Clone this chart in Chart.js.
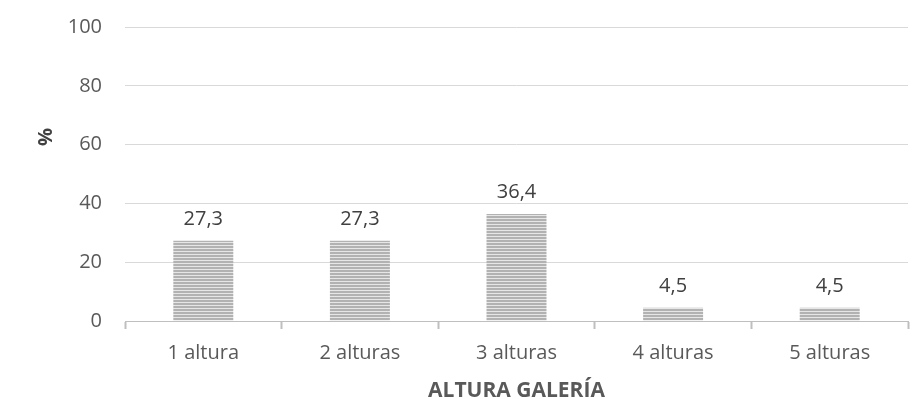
<!DOCTYPE html>
<html>
<head>
<meta charset="utf-8">
<script src="https://cdn.jsdelivr.net/npm/chart.js@4"></script>
<style>
  html, body { margin: 0; padding: 0; background: #fff; }
  #wrap { width: 919px; height: 399px; }
</style>
</head>
<body>
<div id="wrap"><canvas id="myChart"></canvas></div>
<script>
const categories = ['1 altura', '2 alturas', '3 alturas', '4 alturas', '5 alturas'];
const percentages = [27.3, 27.3, 36.4, 4.5, 4.5];
const yTicks = [0, 20, 40, 60, 80, 100];

// horizontal stripe fill, like the original bars
function stripes() {
    const c = document.createElement('canvas');
    c.width = 4;
    c.height = 3;
    const g = c.getContext('2d');
    g.fillStyle = '#b2b2b2';
    g.fillRect(0, 0, 4, 3);
    g.fillStyle = '#e6e6e6';
    g.fillRect(0, 2, 4, 1);
    return g.createPattern(c, 'repeat');
}

const valueLabels = {
    id: 'valueLabels',
    afterDatasetsDraw(chart) {
        const ctx = chart.ctx;
        const meta = chart.getDatasetMeta(0);
        ctx.save();
        ctx.fillStyle = '#404040';
        ctx.font = '20px "Open Sans"';
        ctx.textAlign = 'center';
        ctx.textBaseline = 'alphabetic';
        meta.data.forEach((bar, i) => {
            ctx.fillText(percentages[i].toFixed(1).replace('.', ','), bar.x, bar.y - 16);
        });
        // y axis title, placed like the original (above centre)
        ctx.translate(46, 137);
        ctx.rotate(-Math.PI / 2);
        ctx.fillStyle = '#404040';
        ctx.font = 'bold 20px "Open Sans"';
        ctx.textBaseline = 'middle';
        ctx.fillText('%', 0, 0);
        ctx.restore();
    }
};

const ctx = document.getElementById('myChart').getContext('2d');
const myChart = new Chart(ctx, {
    type: 'bar',
    data: {
        labels: categories,
        datasets: [{
            data: percentages,
            backgroundColor: stripes(),
            borderWidth: 0,
            categoryPercentage: 1,
            barPercentage: 0.383
        }]
    },
    options: {
        responsive: true,
        maintainAspectRatio: false,
        animation: false,
        layout: { padding: { left: 0, right: 11, top: 27, bottom: 0 } },
        plugins: {
            legend: { display: false },
            tooltip: { enabled: false }
        },
        scales: {
            x: {
                offset: true,
                afterFit(axis) { axis.height = 78; },
                grid: {
                    display: true,
                    offset: true,
                    drawOnChartArea: false,
                    drawTicks: true,
                    tickLength: 8,
                    tickWidth: 2,
                    color: '#bfbfbf'
                },
                border: { color: '#bfbfbf', width: 1 },
                ticks: { color: '#595959', font: { family: 'Open Sans', size: 20 }, padding: 12 },
                title: {
                    display: true,
                    text: 'ALTURA GALERÍA',
                    color: '#595959',
                    font: { family: 'Open Sans', size: 21, weight: 'bold', lineHeight: 1 },
                    padding: { top: 0, bottom: -3 }
                }
            },
            y: {
                min: 0,
                max: 100,
                afterFit(axis) {
                    axis.width = 125;
                    axis.paddingTop = 0;
                    axis.paddingBottom = 0;
                },
                afterBuildTicks(axis) {
                    axis.ticks = yTicks.map(v => ({ value: v }));
                },
                grid: { color: '#d9d9d9', drawTicks: false },
                border: { display: false },
                ticks: { color: '#595959', font: { family: 'Open Sans', size: 20 }, padding: 23 }
            }
        }
    },
    plugins: [valueLabels]
});
</script>
</body>
</html>
